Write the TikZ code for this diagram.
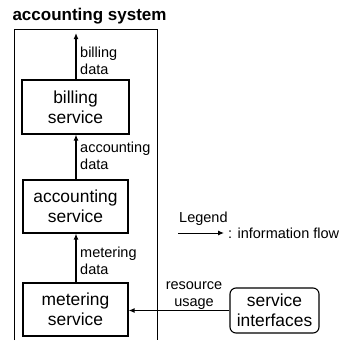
\documentclass[tikz,border=0pt]{standalone}
\usepackage{fontspec}
\setmainfont{Liberation Sans}
\usetikzlibrary{arrows.meta}
\tikzset{
  flow/.style={line width=1.3pt,-{Latex[length=6pt,width=5pt]}},
  svcbox/.style={draw,line width=1.1pt,minimum width=105pt,minimum height=53pt,align=center,inner sep=0pt,font=\fontsize{17.4}{20}\selectfont},
  lbl/.style={align=left,inner sep=0pt,font=\fontsize{14.5}{17}\selectfont},
}
\begin{document}
\begin{tikzpicture}[x=1pt,y=-1pt]
\useasboundingbox (0,0) rectangle (342,340);
% outer system box
\draw[line width=1pt] (14,340) -- (14,29) -- (157,29) -- (157,340);
\node[font=\bfseries\fontsize{17}{20}\selectfont,inner sep=0pt] (title) at (89.5,16) {accounting system};
% services
\node[svcbox,minimum width=107pt,minimum height=54pt] (bill) at (75.5,107) {billing\\service};
\node[svcbox] (acct) at (75.5,206.5) {accounting\\service};
\node[svcbox] (meter) at (75.5,309.5) {metering\\service};
\node[svcbox,rounded corners=6pt,minimum width=89pt,minimum height=45pt] (si) at (274.5,310.5) {service\\interfaces};
% arrows
\coordinate (top) at (76,33);
\draw[flow] (bill.north -| top) -- (top);
\draw[flow] (acct.north -| top) -- (bill.south -| top);
\draw[flow] (meter.north -| top) -- (acct.south -| top);
\draw[flow] (si.west) -- (meter.east |- si.west);
% labels
\node[lbl,anchor=west] (l1) at (80,61) {billing\\data};
\node[lbl,anchor=west] (l2) at (80,156) {accounting\\data};
\node[lbl,anchor=west] (l3) at (80,261) {metering\\data};
\node[lbl,align=center] (l4) at (194,296) {resource\\usage};
% legend
\node[lbl,anchor=west] (leg) at (179,219) {Legend};
\coordinate (la) at (178,233);
\coordinate (lb) at (224,233);
\draw[flow,line width=1pt] (la) -- (lb);
\node[lbl,anchor=west] (legt) at (228,233.5) {: information flow};
\end{tikzpicture}
\end{document}
